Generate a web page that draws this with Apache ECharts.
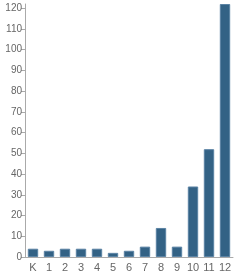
<!DOCTYPE html>
<html>
<head>
<meta charset="utf-8">
<script src="https://cdn.jsdelivr.net/npm/echarts@6/dist/echarts.min.js"></script>
<style>
    html, body { margin: 0; padding: 0; background: #fff; }
    #chart { width: 240px; height: 277px; }
</style>
</head>
<body>
<div id="chart"></div>
<script>
// grade levels and student counts
var grades = ['K', '1', '2', '3', '4', '5', '6', '7', '8', '9', '10', '11', '12'];
var students = [4, 3, 4, 4, 4, 2, 3, 5, 14, 5, 34, 52, 122];
var yTicks = [0, 10, 20, 30, 40, 50, 60, 70, 80, 90, 100, 110, 120];

var myChart = echarts.init(document.getElementById('chart'));

var option = {
    animation: false,
    grid: {
        left: 25,
        right: 7,
        top: 4,
        bottom: 20
    },
    xAxis: {
        type: 'category',
        data: grades,
        axisLine: { lineStyle: { color: '#aaaaaa', width: 1 } },
        axisTick: { show: false },
        axisLabel: {
            color: '#666666',
            fontFamily: 'Liberation Sans',
            fontSize: 11,
            margin: 5,
            interval: 0
        }
    },
    yAxis: {
        type: 'value',
        min: 0,
        max: 122,
        interval: 10,
        splitLine: { show: false },
        axisLine: { show: true, lineStyle: { color: '#aaaaaa', width: 1 } },
        axisTick: {
            show: true,
            length: 4,
            lineStyle: { color: '#aaaaaa' },
            customValues: yTicks
        },
        axisLabel: {
            color: '#666666',
            fontFamily: 'Liberation Sans',
            fontSize: 10,
            margin: 3,
            customValues: yTicks
        }
    },
    series: [
        {
            type: 'bar',
            data: students,
            barCategoryGap: '35%',
            itemStyle: {
                color: '#336285',
                borderColor: '#5b83a4',
                borderWidth: 1
            }
        }
    ]
};

myChart.setOption(option);
</script>
</body>
</html>
